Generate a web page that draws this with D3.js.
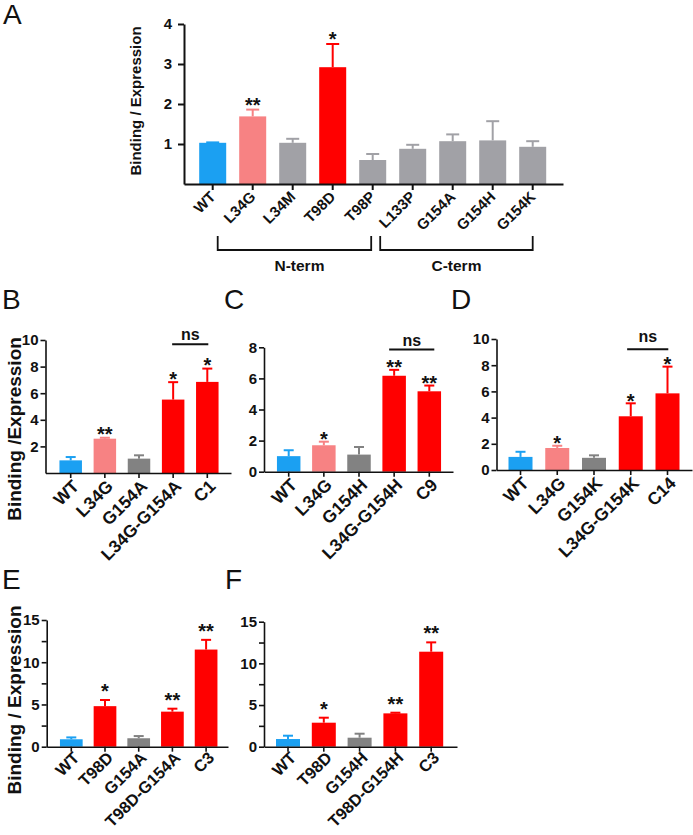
<!DOCTYPE html>
<html><head><meta charset="utf-8">
<script src="https://cdn.jsdelivr.net/npm/d3@7"></script>
<style>
body{margin:0;background:#fff;}
svg{display:block;font-family:"Liberation Sans",Arial,Helvetica,sans-serif;}
</style></head><body>
<svg id="fig" width="693" height="835"></svg>
<script>
// ---------- DATA ----------
// Panel A
const catsA  = ["WT","L34G","L34M","T98D","T98P","L133P","G154A","G154H","G154K"];
const meanA  = [1.03, 1.69, 1.03, 2.92, 0.60, 0.88, 1.07, 1.09, 0.93];
const errA   = [0.01, 0.17, 0.10, 0.58, 0.15, 0.10, 0.17, 0.48, 0.14];
const kindA  = ["wt","light","gray","red","gray","gray","gray","gray","gray"];
const sigA   = ["","**","","*","","","","",""];
const ticksA = [1,2,3,4];
const groupNames = ["N-term","C-term"];
const groupFrom  = ["L34G","L133P"];
const groupTo    = ["T98P","G154K"];
// Panel B
const catsB  = ["WT","L34G","G154A","L34G-G154A","C1"];
const meanB  = [0.95, 2.58, 1.08, 5.52, 6.85];
const errB   = [0.25, 0.07, 0.25, 1.31, 1.00];
const kindB  = ["wt","light","gray","red","red"];
const sigB   = ["","**","","*","*"];
const ticksB = [2,4,6,8,10];
const nsB    = ["L34G-G154A","C1",9.68];
// Panel C
const catsC  = ["WT","L34G","G154H","L34G-G154H","C9"];
const meanC  = [1.00, 1.70, 1.10, 6.17, 5.17];
const errC   = [0.38, 0.23, 0.49, 0.38, 0.37];
const kindC  = ["wt","light","gray","red","red"];
const sigC   = ["","*","","**","**"];
const ticksC = [0,2,4,6,8];
const nsC    = ["L34G-G154H","C9",7.86];
// Panel D
const catsD  = ["WT","L34G","G154K","L34G-G154K","C14"];
const meanD  = [1.00, 1.68, 0.93, 4.10, 5.85];
const errD   = [0.39, 0.17, 0.19, 0.99, 2.04];
const kindD  = ["wt","light","gray","red","red"];
const sigD   = ["","*","","*","*"];
const ticksD = [0,2,4,6,8,10];
const nsD    = ["L34G-G154K","C14",9.21];
// Panel E
const catsE  = ["WT","T98D","G154A","T98D-G154A","C3"];
const meanE  = [0.88, 4.80, 1.00, 4.15, 11.50];
const errE   = [0.22, 0.73, 0.26, 0.35, 1.15];
const kindE  = ["wt","red","gray","red","red"];
const sigE   = ["","*","","**","**"];
const ticksE = [0,5,10,15];
const minorE = [2.5,7.5,12.5];
// Panel F
const catsF  = ["WT","T98D","G154H","T98D-G154H","C3"];
const meanF  = [0.92, 2.88, 1.08, 4.00, 11.40];
const errF   = [0.40, 0.60, 0.48, 0.08, 1.12];
const kindF  = ["wt","red","gray","red","red"];
const sigF   = ["","*","","**","**"];
const ticksF = [0,5,10,15];
const minorF = [2.5,7.5,12.5];

// ---------- STYLE ----------
const colorsA = {wt:"#1ba0f2", light:"#f78283", gray:"#a1a1a6", red:"#ff0000"};
const colors  = {wt:"#1ba0f2", light:"#f78283", gray:"#828282", red:"#ff0000"};

const svg = d3.select("#fig");

function drawPanel(p){
  const g = svg.append("g");
  const n = p.cats.length;
  const pin = 1 - p.bw/p.step;
  const pout = ((p.axR-p.axL)/p.step - n + pin)/2;
  const rest = (p.axR-p.axL) - p.step*(n-pin);
  const off = p.first - p.bw/2 - p.axL;
  const x = d3.scaleBand().domain(p.cats).range([p.axL,p.axR])
      .paddingInner(pin).paddingOuter(pout)
      .align(Math.max(0,Math.min(1,off/rest)));
  const y = d3.scaleLinear().domain([0,p.ymax]).range([p.base,p.top]);
  const cx = c => x(c) + x.bandwidth()/2;
  const data = p.cats.map((c,i)=>({c, m:p.mean[i], e:p.err[i], k:p.kind[i], s:p.sig[i]}));

  // bars
  g.selectAll("rect.bar").data(data).join("rect")
    .attr("x", d=>x(d.c)).attr("width", x.bandwidth())
    .attr("y", d=>y(d.m)).attr("height", d=>p.base - y(d.m))
    .attr("fill", d=>p.colors[d.k]);
  // error bars (upper only)
  g.selectAll("line.err").data(data).join("line")
    .attr("x1", d=>cx(d.c)).attr("x2", d=>cx(d.c))
    .attr("y1", d=>y(d.m)).attr("y2", d=>y(d.m+d.e))
    .attr("stroke", d=>p.colors[d.k]).attr("stroke-width", p.errW);
  g.selectAll("line.cap").data(data).join("line")
    .attr("x1", d=>cx(d.c)-p.capW/2).attr("x2", d=>cx(d.c)+p.capW/2)
    .attr("y1", d=>y(d.m+d.e)).attr("y2", d=>y(d.m+d.e))
    .attr("stroke", d=>p.colors[d.k]).attr("stroke-width", p.errW);
  // significance stars
  g.selectAll("text.sig").data(data.filter(d=>d.s)).join("text")
    .attr("x", d=>cx(d.c)).attr("y", d=>y(d.m+d.e) + p.starDy)
    .attr("text-anchor","middle").attr("font-size",20).attr("font-weight","bold")
    .attr("fill","#111").text(d=>d.s);

  // y axis
  const ya = g.append("g").attr("transform",`translate(${p.axL},0)`)
    .call(d3.axisLeft(y).tickValues(p.ticks).tickSize(p.tickLen).tickPadding(p.tickPad).tickSizeOuter(0).tickFormat(d3.format("d")));
  if (p.minor){
    g.append("g").attr("transform",`translate(${p.axL},0)`)
      .call(d3.axisLeft(y).tickValues(p.minor).tickSize(p.tickLen).tickFormat("").tickSizeOuter(0))
      .call(s=>s.select(".domain").remove());
  }
  // x axis
  const xa = g.append("g").attr("transform",`translate(0,${p.base})`)
    .call(d3.axisBottom(x).tickSize(p.tickLen).tickSizeOuter(0));
  g.selectAll(".domain, .tick line").attr("stroke","#111").attr("stroke-width",p.axisW);
  ya.selectAll(".tick text").attr("font-size",p.tickFont).attr("font-weight","bold").attr("fill","#111");
  xa.selectAll(".tick text")
    .attr("font-size",p.labelFont).attr("font-weight","bold").attr("fill","#111")
    .attr("text-anchor","end").attr("y",0).attr("dy","0.35em")
    .attr("transform",`translate(${p.lblDx},${p.lblDy}) rotate(-45)`);

  // y title
  if (p.title){
    g.append("text").attr("transform",`translate(${p.titleX},${p.titleY}) rotate(-90)`)
      .attr("text-anchor","middle").attr("font-size",p.titleFont).attr("font-weight","bold")
      .attr("fill","#111").text(p.title);
  }
  // ns comparison
  if (p.ns){
    const ly = y(p.ns[2]);
    const x1 = cx(p.ns[0]) - p.nsPadL, x2 = cx(p.ns[1]) + p.nsPadR;
    g.append("line").attr("x1",x1).attr("x2",x2).attr("y1",ly).attr("y2",ly)
      .attr("stroke","#111").attr("stroke-width",2);
    g.append("text").attr("x",(x1+x2)/2).attr("y",ly - p.nsGap)
      .attr("text-anchor","middle").attr("font-size",16).attr("font-weight","bold")
      .attr("fill","#111").text("ns");
  }
  // groups (panel A)
  if (p.groups){
    p.groups.names.forEach((nm,i)=>{
      const x1 = cx(p.groups.from[i]) - p.groups.padL[i];
      const x2 = cx(p.groups.to[i]) - p.groups.padR[i];
      const yt = p.groups.y0, yb = p.groups.y1;
      g.append("path").attr("d",`M${x1},${yt}V${yb}H${x2}V${yt}`)
        .attr("fill","none").attr("stroke","#111").attr("stroke-width",1.8);
      g.append("text").attr("x",(x1+x2)/2 + p.groups.tdx[i]).attr("y",p.groups.ty)
        .attr("text-anchor","middle").attr("font-size",15.5).attr("font-weight","bold")
        .attr("fill","#111").text(nm);
    });
  }
  // panel letter
  svg.append("text").attr("x",p.letterX).attr("y",p.letterY)
    .attr("font-size",28).attr("fill","#111").text(p.letter);
}

const common = {tickLen:5, tickPad:2, tickFont:15, labelFont:17.5, axisW:1.6, errW:2, capW:10,
  lblDx:5, lblDy:10, titleFont:19};

drawPanel(Object.assign({}, common, {
  cats:catsA, mean:meanA, err:errA, kind:kindA, sig:sigA, ticks:ticksA, colors:colorsA,
  axL:184, axR:563, base:184, top:24, ymax:4, first:212.7, step:40, bw:27,
  tickLen:6, tickPad:6, tickFont:15, labelFont:15, lblDx:0, lblDy:10, axisW:2, capW:13, starDy:2,
  title:"Binding / Expression", titleX:141, titleY:101, titleFont:15,
  groups:{names:groupNames, from:groupFrom, to:groupTo, padL:[35,32.5], padR:[1.5,0], tdx:[5,0], y0:236, y1:250, ty:271},
  letter:"A", letterX:3, letterY:24
}));
drawPanel(Object.assign({}, common, {
  cats:catsB, mean:meanB, err:errB, kind:kindB, sig:sigB, ticks:ticksB, colors:colors,
  axL:45.5, axR:231, base:473, top:340, ymax:10, first:70.7, step:34.15, bw:22.5,
  starDy:3.6, ns:nsB, nsPadL:1, nsPadR:1, nsGap:4,
  title:"Binding /Expression", titleX:21, titleY:429,
  letter:"B", letterX:2, letterY:309
}));
drawPanel(Object.assign({}, common, {
  cats:catsC, mean:meanC, err:errC, kind:kindC, sig:sigC, ticks:ticksC, colors:colors,
  axL:264, axR:453, base:471.7, top:347.3, ymax:8, first:288.7, step:35.15, bw:23.5,
  starDy:4, ns:nsC, nsPadL:5, nsPadR:5, nsGap:3.5,
  letter:"C", letterX:224, letterY:309
}));
drawPanel(Object.assign({}, common, {
  cats:catsD, mean:meanD, err:errD, kind:kindD, sig:sigD, ticks:ticksD, colors:colors,
  axL:496.5, axR:692, base:470, top:339, ymax:10, first:520.5, step:36.75, bw:24,
  starDy:4.5, ns:nsD, nsPadL:3.6, nsPadR:0.8, nsGap:7.6,
  letter:"D", letterX:451, letterY:309
}));
drawPanel(Object.assign({}, common, {
  cats:catsE, mean:meanE, err:errE, kind:kindE, sig:sigE, ticks:ticksE, minor:minorE, colors:colors,
  axL:46.7, axR:228, base:746.7, top:620, ymax:15, first:71.3, step:33.7, bw:22.7,
  starDy:-2, labelFont:16.5, lblDy:8,
  title:"Binding / Expression", titleX:21, titleY:700,
  letter:"E", letterX:2, letterY:589
}));
drawPanel(Object.assign({}, common, {
  cats:catsF, mean:meanF, err:errF, kind:kindF, sig:sigF, ticks:ticksF, minor:minorF, colors:colors,
  axL:264, axR:457, base:746.7, top:621.7, ymax:15, first:288, step:35.8, bw:24,
  starDy:-2, labelFont:16.5, lblDy:8,
  letter:"F", letterX:225, letterY:589
}));
</script>
</body></html>
